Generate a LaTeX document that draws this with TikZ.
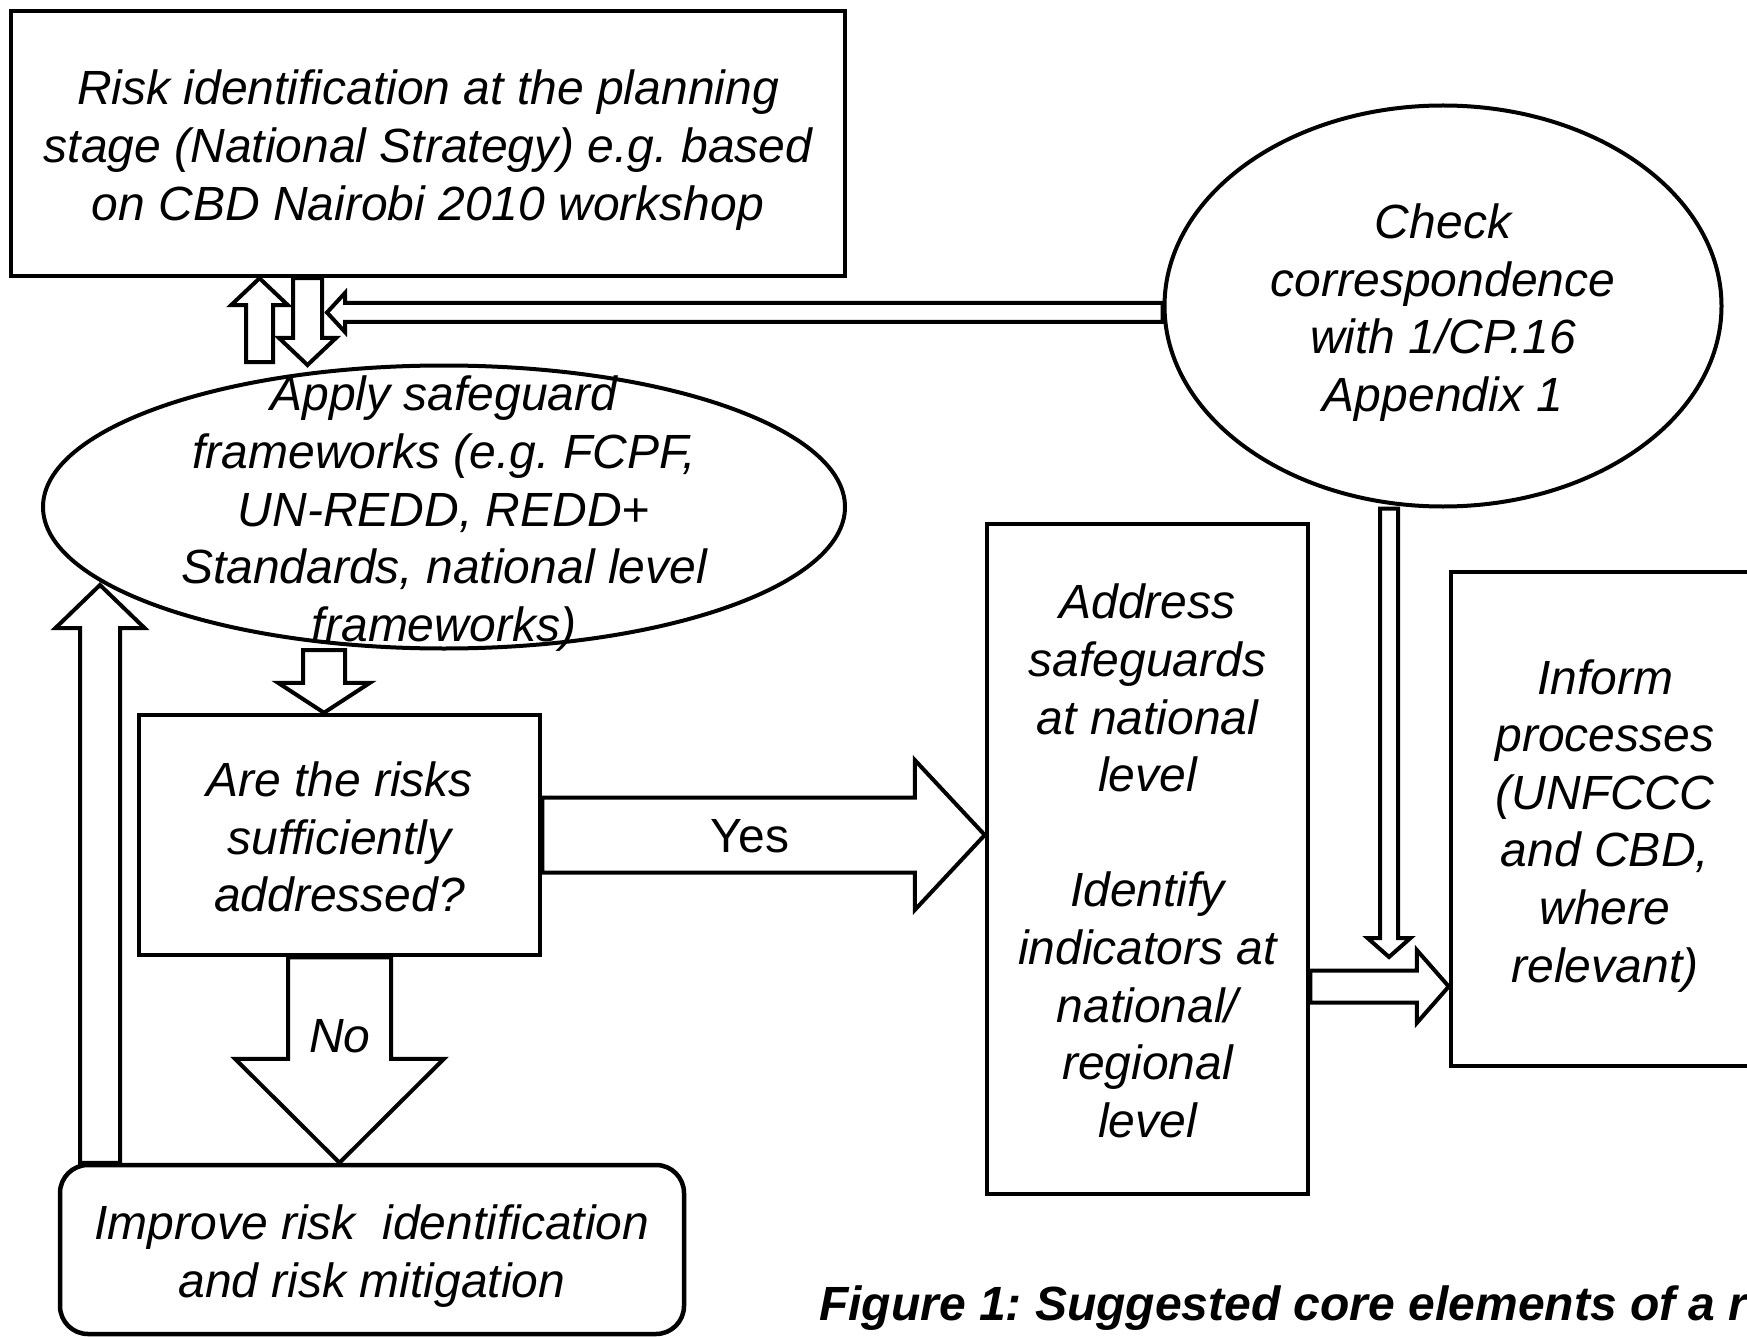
\documentclass[tikz,border=0pt]{standalone}
\usepackage{fontspec}
\setmainfont{Liberation Sans}
\usetikzlibrary{shapes.geometric,calc}
\frenchspacing

%Streben fuer erste und letzte Zeile
\newcommand{\oben}{\rule{0pt}{52.5pt}}
\newcommand{\unten}{\rule[-14.3pt]{0pt}{14.3pt}}

%Blockpfeil: Start, Ziel, halbe Schaftbreite, halbe Kopfbreite, Kopflaenge
\newcommand{\blockarrow}[5]{%
  \path let \p1=($(#2)-(#1)$) in \pgfextra{%
    \pgfmathsetmacro\arrlen{veclen(\x1,\y1)}\global\let\arrlen\arrlen
    \pgfmathsetmacro\arrang{atan2(\y1,\x1)}\global\let\arrang\arrang};
  \draw[pfeil,shift={(#1)},rotate=\arrang]
    (0pt,-#3pt) -- ({(\arrlen-#5)*1pt},-#3pt) -- ({(\arrlen-#5)*1pt},-#4pt)
    -- ({\arrlen*1pt},0pt) -- ({(\arrlen-#5)*1pt},#4pt) -- ({(\arrlen-#5)*1pt},#3pt)
    -- (0pt,#3pt) -- cycle;
}

\begin{document}
\begin{tikzpicture}[
        x=1pt,
        y=-1pt,
        font=\fontsize{48}{57.6}\selectfont\itshape,
        kasten/.style={draw, line width=4.5pt, align=center, inner sep=0pt},
        oval/.style={draw, ellipse, line width=4pt, inner sep=0pt},
        pfeil/.style={draw, line width=4pt, fill=white, line join=miter}]

\useasboundingbox (0,0) rectangle (1747,1337);

%Kaesten
\node[kasten, minimum width=834pt, minimum height=265pt] (risk) at (428,143.5)
  {\oben Risk identification at the planning\\stage (National Strategy) e.g. based\\on CBD Nairobi 2010 workshop\unten};
\node[kasten, minimum width=401pt, minimum height=240pt] (question) at (339.5,835)
  {\oben Are the risks\\sufficiently\\addressed?\unten};
\node[kasten, minimum width=321pt, minimum height=670pt] (address) at (1147.5,859)
  {\oben Address\\safeguards\\at national\\level\\[57.6pt]Identify\\indicators at\\national/\\regional\\level\unten};
\node[kasten, minimum width=308pt, minimum height=494pt] (inform) at (1605,819)
  {\oben Inform\\processes\\(UNFCCC\\and CBD,\\where\\relevant)\unten};
\node[kasten, rounded corners=28pt, minimum width=624pt, minimum height=169pt] (improve) at (372,1249.5)
  {\oben Improve risk\ \ identification\\and risk mitigation\unten};
%Ellipsen
\node[oval, align=center, minimum width=557pt, minimum height=401pt] (check) at (1443,306)
  {\oben Check\\correspondence\\with 1/CP.16\\Appendix 1\unten};
\node[oval, minimum width=802pt, minimum height=283pt,
  label={[align=center]center:{\oben Apply safeguard\\frameworks (e.g. FCPF,\\UN-REDD, REDD+\\Standards, national level\\frameworks)\unten}}] (apply) at (444,507) {};

%Pfeilenden
\coordinate (upFoot) at (259.5,362);
\coordinate (downTip) at (307.5,365);
\coordinate (backTip) at (327,312.5);
\coordinate (applyFoot) at (324,650);
\coordinate (loopTip) at (100,585);
\coordinate (checkTip) at (1389,957);
\coordinate (reportY) at (0,986.5);
%Pfeile
\blockarrow{upFoot}{risk.south -| upFoot}{13.5}{28.5}{27}
\blockarrow{risk.south -| downTip}{downTip}{14.5}{28.5}{27}
\blockarrow{check.west |- backTip}{backTip}{9.5}{19.5}{18}
\blockarrow{applyFoot}{question.north -| applyFoot}{21}{46}{30}
\blockarrow{question.east}{address.west |- question.east}{37.5}{75}{70}
\blockarrow{question.south}{improve.north -| question.south}{51.5}{104.5}{104}
\blockarrow{improve.north -| loopTip}{loopTip}{20}{44.5}{43}
\blockarrow{check.south -| checkTip}{checkTip}{9}{21.5}{19}
\blockarrow{address.east |- reportY}{inform.west |- reportY}{16}{36.5}{32}

%Beschriftung
\node (yes) at (750,836) {\upshape Yes};
\node (no) at (340,1036) {No};
\node[anchor=base west, inner sep=0pt, font=\fontsize{48}{57.6}\selectfont\bfseries\itshape] (caption) at (819,1320)
  {Figure 1: Suggested core elements of a r};

\end{tikzpicture}
\end{document}
